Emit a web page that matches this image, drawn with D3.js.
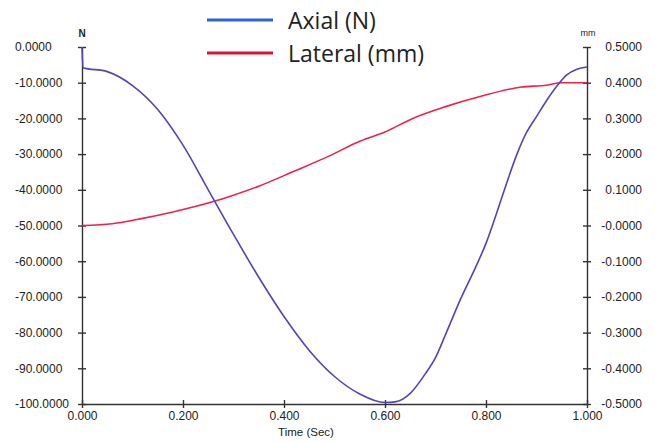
<!DOCTYPE html>
<html>
<head>
<meta charset="utf-8">
<script src="https://cdn.jsdelivr.net/npm/d3@7"></script>
<style>
  body { margin: 0; background: #fff; }
  svg { display: block; }
  .tick text { font-family: "Liberation Sans", Arial, sans-serif; font-size: 12px; fill: #222; }
</style>
</head>
<body>
<svg id="viz" width="655" height="442"></svg>
<script>
// Data

var axial_t = [0, 0.002, 0.05, 0.10, 0.15, 0.20, 0.25, 0.30, 0.35, 0.40, 0.45, 0.50, 0.55, 0.60, 0.62, 0.65, 0.68, 0.70, 0.72, 0.75, 0.78, 0.80, 0.82, 0.84, 0.86, 0.88, 0.90, 0.92, 0.94, 0.96, 0.98, 1.00];
var axial_v = [0, -5.8, -6.9, -10.8, -17.5, -27.5, -40, -52.5, -64.5, -75.5, -85, -92.3, -97.2, -99.6, -99.4, -97, -91.5, -87, -80.5, -70.5, -61.5, -55, -47, -38.5, -30.5, -24, -19.5, -15, -11, -7.8, -6.2, -5.6];

var lateral_t = [0, 0.06, 0.12, 0.18, 0.26, 0.30, 0.35, 0.42, 0.49, 0.55, 0.60, 0.655, 0.72, 0.79, 0.87, 0.92, 0.95, 1.00];
var lateral_v = [0.0, 0.005, 0.02, 0.038, 0.067, 0.085, 0.11, 0.152, 0.195, 0.236, 0.262, 0.300, 0.333, 0.362, 0.388, 0.393, 0.40, 0.40];

var x_ticks = [0, 0.2, 0.4, 0.6, 0.8, 1.0];
var x_labels = ["0.000", "0.200", "0.400", "0.600", "0.800", "1.000"];
var left_ticks = [0, -10, -20, -30, -40, -50, -60, -70, -80, -90, -100];
var left_labels = ["0.0000", "-10.0000", "-20.0000", "-30.0000", "-40.0000", "-50.0000", "-60.0000", "-70.0000", "-80.0000", "-90.0000", "-100.0000"];
var right_ticks = [0.5, 0.4, 0.3, 0.2, 0.1, 0, -0.1, -0.2, -0.3, -0.4, -0.5];
var right_labels = ["0.5000", "0.4000", "0.3000", "0.2000", "0.1000", "-0.0000", "-0.1000", "-0.2000", "-0.3000", "-0.4000", "-0.5000"];

var legend_names = ["Axial (N)", "Lateral (mm)"];
var legend_colours = ["#2a66c8", "#e0123a"];

// Plot box

var plot_left = 82, plot_right = 587, plot_top = 47, plot_bottom = 404;

var svg = d3.select("svg");

var x = d3.scaleLinear().domain([0, 1]).range([plot_left, plot_right]);
var yL = d3.scaleLinear().domain([-100, 0]).range([plot_bottom, plot_top]);
var yR = d3.scaleLinear().domain([-0.5, 0.5]).range([plot_bottom, plot_top]);

// Axes

var xAxis = svg.append("g")
    .attr("transform", "translate(0," + plot_bottom + ")")
    .call(d3.axisBottom(x).tickValues(x_ticks).tickSizeOuter(0).tickSizeInner(0)
        .tickFormat((d, i) => x_labels[i]));
xAxis.selectAll(".tick text").attr("y", 7).attr("dy", "0.71em");

var lAxis = svg.append("g")
    .attr("transform", "translate(" + plot_left + ",0)")
    .call(d3.axisLeft(yL).tickValues(left_ticks).tickSizeOuter(0).tickSizeInner(0)
        .tickFormat((d, i) => left_labels[i]));
lAxis.selectAll(".tick text").attr("x", 15 - plot_left).attr("text-anchor", "start");

var rAxis = svg.append("g")
    .attr("transform", "translate(" + plot_right + ",0)")
    .call(d3.axisRight(yR).tickValues(right_ticks).tickSizeOuter(0).tickSizeInner(0)
        .tickFormat((d, i) => right_labels[i]));
rAxis.selectAll(".tick text").attr("x", 642 - plot_right).attr("text-anchor", "end");

// ticks cross the axis line
lAxis.selectAll(".tick line").attr("x1", -4).attr("x2", 4);
rAxis.selectAll(".tick line").attr("x1", -4).attr("x2", 4);
xAxis.selectAll(".tick line").attr("y1", -4).attr("y2", 4);

svg.selectAll(".domain, .tick line").attr("stroke", "#333").attr("stroke-width", 1.4);

// Axis titles

svg.append("text")
    .attr("x", plot_left).attr("y", 37)
    .attr("text-anchor", "middle")
    .style("font-family", "Liberation Sans, Arial, sans-serif")
    .style("font-size", "10px").style("font-weight", "bold").style("fill", "#222")
    .text("N");

svg.append("text")
    .attr("x", plot_right + 1).attr("y", 36)
    .attr("text-anchor", "middle")
    .style("font-family", "Liberation Sans, Arial, sans-serif")
    .style("font-size", "9px").style("fill", "#222")
    .text("mm");

svg.append("text")
    .attr("x", 306).attr("y", 436)
    .attr("text-anchor", "middle")
    .style("font-family", "Liberation Sans, Arial, sans-serif")
    .style("font-size", "11.5px").style("fill", "#222")
    .text("Time (Sec)");

// Series lines

var axial_pts = axial_t.map((t, i) => [t, axial_v[i]]);
var lateral_pts = lateral_t.map((t, i) => [t, lateral_v[i]]);

svg.append("path")
    .datum(lateral_pts)
    .attr("fill", "none")
    .attr("stroke", "#f0204a")
    .attr("stroke-width", 1.6)
    .attr("d", d3.line().x(d => x(d[0])).y(d => yR(d[1])).curve(d3.curveMonotoneX));

svg.append("path")
    .datum(axial_pts)
    .attr("fill", "none")
    .attr("stroke", "#5444b4")
    .attr("stroke-width", 1.6)
    .attr("d", d3.line().x(d => x(d[0])).y(d => yL(d[1])).curve(d3.curveMonotoneX));

// Legend

var legend = svg.append("g").selectAll("g")
    .data(legend_names)
    .enter().append("g")
    .attr("transform", (d, i) => "translate(207," + (20 + i * 33) + ")");

legend.append("line")
    .attr("x1", 0).attr("x2", 66)
    .attr("stroke", (d, i) => legend_colours[i])
    .attr("stroke-width", 3);

legend.append("text")
    .attr("x", 81).attr("y", 8.5)
    .style("font-family", "Open Sans, Noto Sans, sans-serif")
    .style("font-size", "23px").style("fill", "#222")
    .text(d => d);
</script>
</body>
</html>
